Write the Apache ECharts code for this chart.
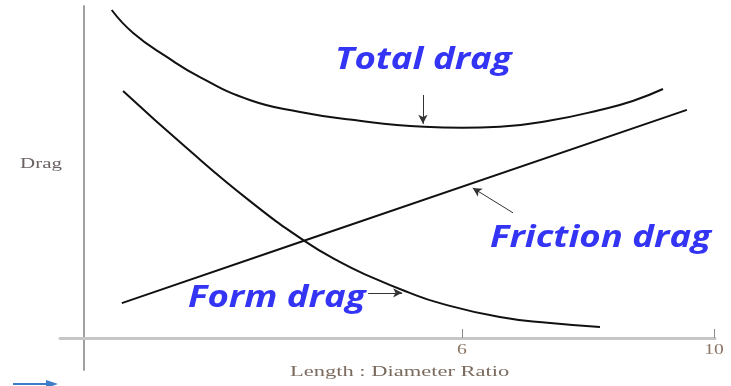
<!DOCTYPE html>
<html>
<head>
<meta charset="utf-8">
<script src="https://cdn.jsdelivr.net/npm/echarts@6/dist/echarts.min.js"></script>
<style>
  html, body { margin: 0; padding: 0; background: #fff; }
  #chart { width: 731px; height: 386px; }
</style>
</head>
<body>
<div id="chart"></div>
<script>
// Length : Diameter ratio (x) vs drag (arbitrary units)
var totalX = [0.44, 0.78, 1.32, 1.84, 2.63, 3.43, 4.22, 5.40, 6.00, 6.60, 7.40, 8.19, 8.71, 9.19];
var totalY = [9.88, 9.19, 8.46, 7.86, 7.17, 6.81, 6.58, 6.36, 6.33, 6.36, 6.55, 6.87, 7.14, 7.50];
var formX = [0.62, 1.63, 2.63, 3.48, 4.06, 4.59, 5.13, 5.65, 6.60, 7.40, 8.19];
var formY = [7.44, 5.72, 4.13, 2.95, 2.29, 1.81, 1.39, 1.05, 0.63, 0.45, 0.33];
var frictionX = [0.60, 3.48, 9.57];
var frictionY = [1.05, 2.92, 6.87];
var xTicks = [6, 10];

function pairs(xs, ys) {
  return xs.map(function (x, i) { return [x, ys[i]]; });
}

var labelFont = {
  fontFamily: "Open Sans",
  fontWeight: "bold",
  fontStyle: "italic",
  fontSize: 30,
  fill: "#3434f4",
};
var serif = "'Liberation Serif', 'DejaVu Serif', serif";

var chart = echarts.init(document.getElementById("chart"));
var arrowLine = {
  silent: true,
  symbol: ["none", "arrow"],
  symbolSize: [7, 9],
  label: { show: false },
  lineStyle: { color: "#333", width: 1, type: "solid" },
  emphasis: { disabled: true },
};

var option = {
  animation: false,
  grid: { left: 60, right: 16, top: 6, bottom: 16 },
  xAxis: {
    type: "value",
    min: -0.381,
    max: 10.016,
    axisLine: { onZero: true, lineStyle: { color: "#c6c6c6", width: 3 } },
    axisTick: { show: true, inside: true, length: 9, customValues: xTicks, lineStyle: { color: "#8a8a8a", width: 1 } },
    axisLabel: { show: false },
    splitLine: { show: false },
  },
  yAxis: {
    type: "value",
    min: -0.964,
    max: 10,
    axisLine: { show: true, onZero: true, lineStyle: { color: "#a0a0a0", width: 2 } },
    axisTick: { show: false },
    axisLabel: { show: false },
    splitLine: { show: false },
  },
  series: [
    {
      name: "Total drag",
      type: "line",
      smooth: 0.5,
      showSymbol: false,
      data: pairs(totalX, totalY),
      lineStyle: { color: "#111", width: 2 },
      markLine: Object.assign({}, arrowLine, {
        data: [[{ coord: [5.38, 7.32] }, { coord: [5.38, 6.45] }]],
      }),
    },
    {
      name: "Form drag",
      type: "line",
      smooth: 0.5,
      showSymbol: false,
      data: pairs(formX, formY),
      lineStyle: { color: "#111", width: 2 },
      markLine: Object.assign({}, arrowLine, {
        data: [[{ coord: [4.51, 1.36] }, { coord: [5.05, 1.36] }]],
      }),
    },
    {
      name: "Friction drag",
      type: "line",
      showSymbol: false,
      data: pairs(frictionX, frictionY),
      lineStyle: { color: "#111", width: 2 },
      markLine: Object.assign({}, arrowLine, {
        data: [[{ coord: [6.81, 3.77] }, { coord: [6.17, 4.52] }]],
      }),
    },
  ],
};
chart.setOption(option);

// tick labels placed from the axis scale (stretched serif like the scanned figure)
var graphics = xTicks.map(function (v) {
  var p = chart.convertToPixel({ gridIndex: 0 }, [v, 0]);
  return {
    type: "text", x: p[0], y: p[1] + 5, scaleX: 1.4,
    style: { text: String(v), fontFamily: serif, fontSize: 14, fill: "#8a7565", align: "center", verticalAlign: "top" },
  };
});
graphics.push(
  { type: "text", x: 335, y: 45, scaleX: 1.22, style: Object.assign({ text: "Total drag" }, labelFont) },
  { type: "text", x: 490, y: 223, scaleX: 1.22, style: Object.assign({ text: "Friction drag" }, labelFont) },
  { type: "text", x: 188, y: 283, scaleX: 1.22, style: Object.assign({ text: "Form drag" }, labelFont) },
  { type: "text", x: 20, y: 157, scaleX: 1.5, style: { text: "Drag", fontFamily: serif, fontSize: 14, fill: "#6b6262" } },
  { type: "text", x: 290, y: 365, scaleX: 1.5, style: { text: "Length : Diameter Ratio", fontFamily: serif, fontSize: 15, fill: "#7a6a5e" } },
  // slide leftover: small blue arrow in the corner
  { type: "line", shape: { x1: 13, y1: 384, x2: 52, y2: 384 }, style: { stroke: "#3d7cc9", lineWidth: 2 } },
  { type: "polygon", shape: { points: [[46, 380], [58, 384], [46, 388]] }, style: { fill: "#3d7cc9" } }
);
chart.setOption({ graphic: graphics });
</script>
</body>
</html>
